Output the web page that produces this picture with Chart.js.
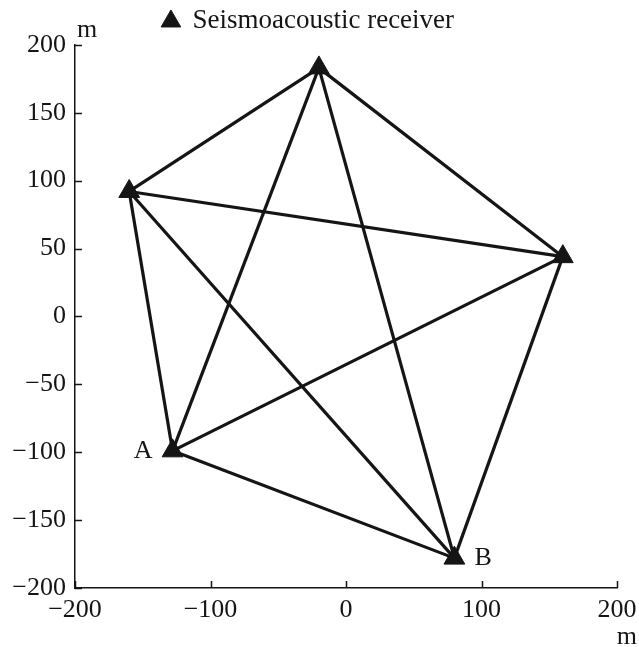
<!DOCTYPE html>
<html>
<head>
<meta charset="utf-8">
<script src="https://cdn.jsdelivr.net/npm/chart.js@4.4.1/dist/chart.umd.min.js"></script>
<style>
  html, body { margin: 0; padding: 0; background: #fff; }
  #wrap { width: 639px; height: 647px; }
</style>
</head>
<body>
<div id="wrap"><canvas id="chart" width="639" height="647"></canvas></div>
<script>
// --- Data ---
const stationNames = ['', '', '', 'A', 'B'];
const stationX = [-20, -160, 160, -128, 80];
const stationY = [183, 92, 44, -99, -178];
// pairs of station indexes joined by a line
const links = [[0,1],[0,2],[0,3],[0,4],[1,2],[1,3],[1,4],[2,3],[2,4],[3,4]];
const xTicks = [-200, -100, 0, 100, 200];
const yTicks = [-200, -150, -100, -50, 0, 50, 100, 150, 200];

const ink = '#151515';
const serif = '"Liberation Serif", "Times New Roman", serif';
const fmt = v => (v < 0 ? '\u2212' + Math.abs(v) : String(v));

// --- Datasets ---
const linkSets = links.map(([a, b]) => ({
  label: 'link',
  data: [{ x: stationX[a], y: stationY[a] }, { x: stationX[b], y: stationY[b] }],
  showLine: true,
  borderColor: ink,
  borderWidth: 3.2,
  pointRadius: 0,
  order: 2
}));

const receiverSet = {
  label: 'Seismoacoustic receiver',
  data: stationX.map((x, i) => ({ x, y: stationY[i] })),
  pointStyle: 'triangle',
  pointRadius: 12,
  backgroundColor: ink,
  borderColor: ink,
  borderWidth: 1,
  showLine: false,
  order: 1
};

// --- Extra drawing: inward ticks, unit labels, station letters ---
const decor = {
  id: 'decor',
  afterDraw(chart) {
    const { ctx, chartArea: ca, scales: { x, y } } = chart;
    ctx.save();
    ctx.strokeStyle = ink;
    ctx.lineWidth = 1.5;
    ctx.beginPath();
    xTicks.forEach(v => {
      const px = Math.round(x.getPixelForValue(v)) + 0.5;
      ctx.moveTo(px, ca.bottom);
      ctx.lineTo(px, ca.bottom - 7);
    });
    yTicks.forEach(v => {
      const py = Math.round(y.getPixelForValue(v)) + 0.5;
      ctx.moveTo(ca.left, py);
      ctx.lineTo(ca.left + 7, py);
    });
    ctx.stroke();

    ctx.fillStyle = ink;
    ctx.font = '26px ' + serif;
    ctx.textBaseline = 'middle';
    ctx.textAlign = 'left';
    ctx.fillText('m', ca.left + 2, ca.top - 15);
    ctx.textAlign = 'right';
    ctx.fillText('m', ca.right + 20, ca.bottom + 49);

    stationNames.forEach((name, i) => {
      if (!name) return;
      const px = x.getPixelForValue(stationX[i]);
      const py = y.getPixelForValue(stationY[i]);
      if (i === 3) {
        ctx.textAlign = 'right';
        ctx.fillText(name, px - 20, py);
      } else {
        ctx.textAlign = 'left';
        ctx.fillText(name, px + 20, py);
      }
    });
    ctx.restore();
  }
};

function draw() {
  new Chart(document.getElementById('chart'), {
    type: 'scatter',
    data: { datasets: [...linkSets, receiverSet] },
    options: {
      responsive: false,
      animation: false,
      layout: { padding: { left: 0, right: 22, top: 0, bottom: 0 } },
      plugins: {
        tooltip: { enabled: false },
        legend: {
          position: 'top',
          labels: {
            filter: item => item.text !== 'link',
            usePointStyle: true,
            pointStyle: 'triangle',
            boxWidth: 16,
            boxHeight: 16,
            color: ink,
            font: { family: serif, size: 27 },
            padding: 7.8
          }
        }
      },
      scales: {
        x: {
          type: 'linear',
          min: -200, max: 200,
          afterBuildTicks: s => { s.ticks = xTicks.map(v => ({ value: v })); },
          afterFit: s => { s.height = 59; s.paddingLeft = 0; s.paddingRight = 0; },
          grid: { display: false, drawTicks: false },
          border: { display: true, color: ink, width: 1.5 },
          ticks: {
            color: ink,
            padding: 7,
            maxRotation: 0,
            font: { family: serif, size: 26 },
            callback: v => fmt(v)
          }
        },
        y: {
          type: 'linear',
          min: -200, max: 200,
          afterBuildTicks: s => { s.ticks = yTicks.map(v => ({ value: v })); },
          afterFit: s => { s.width = 75; },
          grid: { display: false, drawTicks: false },
          border: { display: true, color: ink, width: 1.5 },
          ticks: {
            color: ink,
            padding: 9,
            font: { family: serif, size: 26 },
            callback: v => fmt(v)
          }
        }
      }
    },
    plugins: [decor]
  });
}

document.fonts.load('26px "Liberation Serif"').then(draw, draw);
</script>
</body>
</html>
